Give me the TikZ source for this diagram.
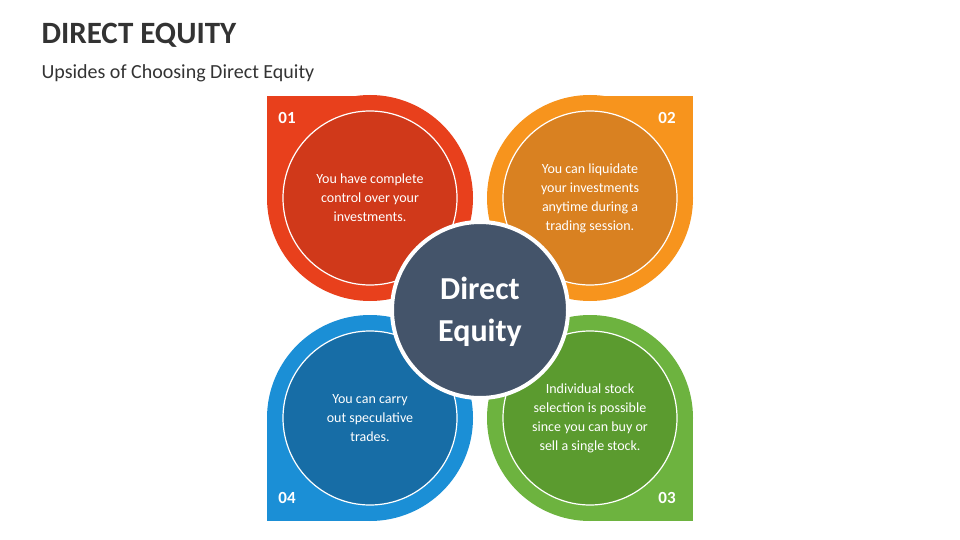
\documentclass[tikz,border=0pt]{standalone}
\usepackage{fontspec}
\setmainfont{Carlito}
\begin{document}
\begin{tikzpicture}[x=1pt,y=-1pt,
  inner/.style={draw=white,line width=1.2pt},
  txt/.style={text=white,align=center,font=\fontsize{14}{19}\selectfont},
  num/.style={text=white,font=\bfseries\fontsize{17}{20}\selectfont}]
\definecolor{c1}{HTML}{E8401C}\definecolor{c1d}{HTML}{D0391A}
\definecolor{c2}{HTML}{F7941D}\definecolor{c2d}{HTML}{D98121}
\definecolor{c3}{HTML}{6DB33F}\definecolor{c3d}{HTML}{5B9B2F}
\definecolor{c4}{HTML}{1B8FD6}\definecolor{c4d}{HTML}{176DA6}
\definecolor{cen}{HTML}{44546A}
\useasboundingbox (0,0) rectangle (960,540);
\node[anchor=west,font=\bfseries\fontsize{31}{34}\selectfont,text=black!80] (t) at (38,35) {DIRECT EQUITY};
\node[anchor=west,font=\fontsize{20}{24}\selectfont,text=black!80] (s) at (38,73) {Upsides of Choosing Direct Equity};
% petals
\fill[c1] (370,198) circle (103); \fill[c1] (267,96) rectangle (370,198);
\fill[c2] (590,198) circle (103); \fill[c2] (590,96) rectangle (693,198);
\fill[c4] (370,418) circle (103); \fill[c4] (267,418) rectangle (370,521);
\fill[c3] (590,418) circle (103); \fill[c3] (590,418) rectangle (693,521);
\draw[inner,fill=c1d] (370,198) circle (87);
\draw[inner,fill=c2d] (590,198) circle (87);
\draw[inner,fill=c4d] (370,418) circle (87);
\draw[inner,fill=c3d] (590,418) circle (87);
\node[txt] (p1) at (370,198) {You have complete\\control over your\\investments.};
\node[txt] (p2) at (590,198) {You can liquidate\\your investments\\anytime during a\\trading session.};
\node[txt] (p4) at (370,418) {You can carry\\out speculative\\trades.};
\node[txt] (p3) at (590,418) {Individual stock\\selection is possible\\since you can buy or\\sell a single stock.};
\node[num] (n1) at (287,118) {01};
\node[num] (n2) at (667,118) {02};
\node[num] (n4) at (287,498) {04};
\node[num] (n3) at (667,498) {03};
\draw[draw=white,line width=4pt,fill=cen] (480,310) circle (88);
\node[text=white,align=center,font=\bfseries\fontsize{32}{42}\selectfont] (c) at (480,312) {Direct\\Equity};
\end{tikzpicture}
\end{document}
